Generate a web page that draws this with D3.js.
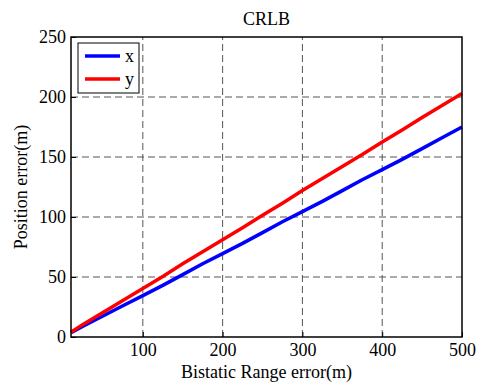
<!DOCTYPE html>
<html>
<head>
  <meta charset="utf-8">
  <script src="https://cdn.jsdelivr.net/npm/d3@7"></script>
</head>
<body style="margin:0; background:#fff">
<script>
  const width = 484, height = 382;
  const margin = { top: 37, right: 22, bottom: 45, left: 71 };
  const serif = '"Liberation Serif"';

  // bistatic range error (m)
  const rangeErr = [10, 25, 50, 75, 100, 125, 150, 175, 200, 225, 250, 275, 300, 325, 350, 375, 400, 425, 450, 475, 500];
  // position error CRLB, x component
  const errX = [3.5, 9, 17.5, 26, 34.5, 43, 52, 61, 69.5, 78, 87, 96, 104.5, 113, 122, 131, 139.5, 148, 157, 166, 175];
  // position error CRLB, y component
  const errY = [4, 10.5, 20.5, 30.5, 40.5, 50.5, 61, 71, 81, 91, 101.5, 111.5, 122, 132, 142, 152, 162.5, 172.5, 183, 193, 203];

  const xTicks = [100, 200, 300, 400, 500];
  const yTicks = [0, 50, 100, 150, 200, 250];

  const series = [
    { name: 'x', color: '#0000ff', values: errX },
    { name: 'y', color: '#ff0000', values: errY }
  ];

  const svg = d3.select('body').append('svg')
    .attr('width', width)
    .attr('height', height);

  const x = d3.scaleLinear().domain([10, 500]).range([margin.left, width - margin.right]);
  const y = d3.scaleLinear().domain([0, 250]).range([height - margin.bottom, margin.top]);

  // grid
  const grid = svg.append('g')
    .attr('stroke', '#555')
    .attr('stroke-width', 1)
    .attr('stroke-dasharray', '7,4');
  grid.selectAll('.vg').data(xTicks.filter(d => d < 500)).join('line')
    .attr('x1', d => x(d)).attr('x2', d => x(d))
    .attr('y1', y(0)).attr('y2', y(250));
  grid.selectAll('.hg').data(yTicks.filter(d => d > 0 && d < 250)).join('line')
    .attr('x1', x(10)).attr('x2', x(500))
    .attr('y1', d => y(d)).attr('y2', d => y(d));

  // lines
  const line = d3.line()
    .x((d, i) => x(rangeErr[i]))
    .y(d => y(d));

  svg.append('g').selectAll('path').data(series).join('path')
    .attr('fill', 'none')
    .attr('stroke', d => d.color)
    .attr('stroke-width', 3.5)
    .attr('stroke-linejoin', 'round')
    .attr('d', d => line(d.values));

  // axes (ticks pointing inside, MATLAB style)
  const xAxis = svg.append('g')
    .attr('transform', `translate(0,${y(0)})`)
    .call(d3.axisBottom(x).tickValues(xTicks).tickSizeInner(-5).tickSizeOuter(0).tickPadding(6));
  const yAxis = svg.append('g')
    .attr('transform', `translate(${x(10)},0)`)
    .call(d3.axisLeft(y).tickValues(yTicks).tickSizeInner(-5).tickSizeOuter(0).tickPadding(5));
  [xAxis, yAxis].forEach(a => {
    a.select('.domain').remove();
    a.selectAll('line').attr('stroke', '#000');
    a.selectAll('text')
      .attr('fill', '#000')
      .style('font-family', serif)
      .style('font-size', '18px');
  });

  // box
  svg.append('rect')
    .attr('x', x(10)).attr('y', y(250))
    .attr('width', x(500) - x(10)).attr('height', y(0) - y(250))
    .attr('fill', 'none')
    .attr('stroke', '#000')
    .attr('stroke-width', 1.5);

  // title and labels
  svg.append('text')
    .attr('x', (x(10) + x(500)) / 2).attr('y', 25)
    .attr('text-anchor', 'middle')
    .style('font-family', serif).style('font-size', '18px')
    .text('CRLB');
  svg.append('text')
    .attr('x', (x(10) + x(500)) / 2).attr('y', 378)
    .attr('text-anchor', 'middle')
    .style('font-family', serif).style('font-size', '18px')
    .text('Bistatic Range error(m)');
  svg.append('text')
    .attr('transform', `translate(27,${(y(0) + y(250)) / 2}) rotate(-90)`)
    .attr('text-anchor', 'middle')
    .style('font-family', serif).style('font-size', '18px')
    .text('Position error(m)');

  // legend
  const lg = svg.append('g').attr('transform', 'translate(78,43)');
  lg.append('rect')
    .attr('width', 61).attr('height', 50)
    .attr('fill', '#fff')
    .attr('stroke', '#000')
    .attr('stroke-width', 1);
  const items = lg.selectAll('.item').data(series).join('g')
    .attr('transform', (d, i) => `translate(0,${13 + i * 23})`);
  items.append('line')
    .attr('x1', 7).attr('x2', 42)
    .attr('stroke', d => d.color)
    .attr('stroke-width', 3.5);
  items.append('text')
    .attr('x', 47).attr('y', 6)
    .style('font-family', serif).style('font-size', '18px')
    .text(d => d.name);
</script>
</body>
</html>
